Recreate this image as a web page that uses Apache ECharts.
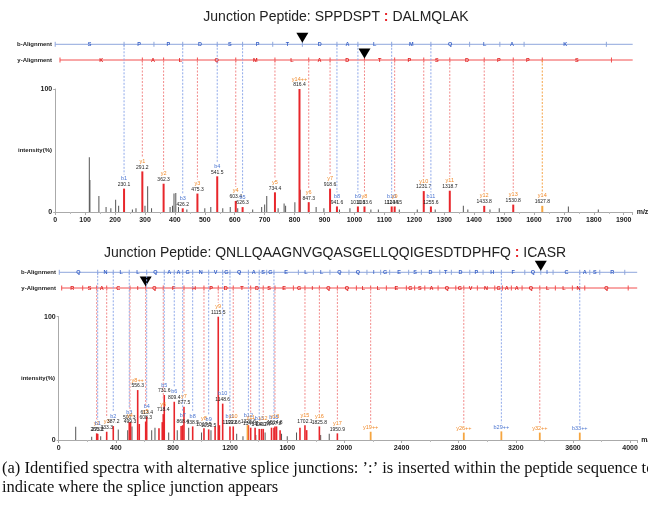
<!DOCTYPE html>
<html>
<head>
<meta charset="utf-8">
<script src="https://cdn.jsdelivr.net/npm/echarts@6/dist/echarts.min.js"></script>
<style>
html, body { margin: 0; padding: 0; background: #fff; }
#main { width: 648px; height: 508px; }
</style>
</head>
<body>
<div id="main"></div>
<script>
// ---- top spectrum : SPPDSPT : DALMQLAK ----
var topBSeq = 'SPPDSPTDALMQLAK'.split('');
var topYSeq = 'KALQMLADTPSDPPS'.split('');
var topBTicks = [0, 230.1, 330, 426.2, 541.5, 626.3, 727, 826, 941.6, 1011.6, 1124.5, 1255.6, 1385, 1486, 1567, 1842];
var topYTicks = [16, 291.2, 362.3, 475.3, 603.4, 734.4, 847.3, 918.6, 1033.6, 1134.5, 1231.7, 1318.7, 1433.8, 1530.8, 1627.8, 1859];
var topBJunction = 7;
var topYJunction = 8;

var topGreyMz = [114, 116, 146, 170, 186, 202, 212, 258, 270, 300, 309, 322, 384, 392, 397, 403, 412, 440, 500, 520,
  560, 585, 610, 660, 690, 700, 707, 745, 765, 770, 801, 819, 872, 898, 950, 985, 1055, 1080, 1150, 1210,
  1270, 1364, 1379, 1453, 1484, 1715, 1815];
var topGreyInt = [44.5, 26, 13, 4, 3, 10, 5, 2, 3, 5, 21, 3, 4, 5, 15, 15.5, 4, 2, 3, 4,
  3, 4, 3, 2, 4, 6, 13, 3, 7, 5, 8, 18, 4, 3, 2, 3, 2, 2, 2, 2,
  2, 5, 2, 2, 3, 4.5, 2];

var topRedMz = [230.1, 291.2, 362.3, 426.2, 475.3, 541.5, 603.4, 626.3, 734.4, 816.4, 847.3, 918.6, 941.6, 1011.6, 1033.6, 1124.5, 1134.5, 1231.7, 1255.6, 1318.7, 1433.8, 1530.8];
var topRedInt = [19, 33, 23, 3, 15, 29, 9, 4, 16, 100, 8, 19, 4.5, 4.5, 4.5, 4.5, 4.5, 17, 4.5, 17.3, 5, 6];
var topRedIon = ['b1', 'y1', 'y2', 'b3', 'y3', 'b4', 'y4', 'b5', 'y5', 'y14++', 'y6', 'y7', 'b8', 'b9', 'y8', 'b10', 'y9', 'y10', 'b11', 'y11', 'y12', 'y13'];
var topRedVal = ['230.1', '291.2', '362.3', '426.2', '475.3', '541.5', '603.4', '626.3', '734.4', '816.4', '847.3', '918.6', '941.6', '1011.6', '1033.6', '1124.5', '1134.5', '1231.7', '1255.6', '1318.7', '1433.8', '1530.8'];

var topOrangeMz = [1627.8];
var topOrangeInt = [5];
var topOrangeIon = ['y14'];
var topOrangeVal = ['1627.8'];

// ---- bottom spectrum : QNLLQAAGNVGQASGELLQQIGESDTDPHFQ : ICASR ----
var botBSeq = 'QNLLQAAGNVGQASGELLQQIGESDTDPHFQICASR'.split('');
var botYSeq = 'RSACIQFHPDTDSEGIQQLLEGSAQGVNGAAQLLNQ'.split('');
var botBTicks = [4, 273, 382, 494, 616, 739, 809, 868, 938, 1050, 1148, 1199, 1328, 1404, 1456, 1507, 1678, 1783, 1899, 2032,
  2158, 2254, 2317, 2450, 2539, 2668, 2749, 2878, 2971, 3099, 3263, 3375, 3461, 3648, 3718, 3788, 3963];
var botYTicks = [21, 168, 266, 336, 499, 609, 732, 877, 1017, 1117, 1222, 1344, 1432, 1514, 1643, 1724, 1825, 1951, 2084, 2184,
  2294, 2434, 2492, 2563, 2656, 2780, 2836, 2931, 3053, 3106, 3169, 3244, 3368, 3477, 3596, 3683, 3987];
var botBJunction = 31;
var botYJunction = 5;

var botGreyMz = [119, 231, 294, 417, 483, 513, 651, 674, 770, 830, 910, 1000, 1066, 1246, 1290, 1380, 1445, 1560, 1600, 1665, 1834, 1894];
var botGreyInt = [10.8, 2.7, 3, 8.6, 8, 11, 8, 10, 6, 8, 10, 6, 8, 5, 3, 4, 6, 5, 3, 6, 4, 5];

var botRedMz = [266, 273, 336, 382, 494, 499, 503, 553, 564, 609, 616, 702, 725, 732, 739, 809, 857, 868, 877, 938,
  1017, 1050, 1095, 1117, 1125, 1148, 1199, 1222, 1328, 1344, 1375, 1404, 1420, 1432, 1490, 1507, 1514, 1525, 1550, 1689,
  1724, 1736, 1825, 1951];
var botRedInt = [5.4, 5, 6.7, 11.3, 14.5, 12, 14.5, 40.5, 13, 15, 19, 9.5, 14.5, 21, 36.5, 31, 11.4, 12, 27, 11,
  9.5, 8.6, 11, 100, 12, 29.5, 11, 11, 12, 10, 10, 9, 9, 9, 10, 10, 11, 11, 8, 10,
  12, 8, 11, 5.4];
var botRedIon = ['y2', 'b1', 'y3', 'b2', 'b3', 'y4', '', 'y8++', '', 'y5', 'b4', '', '', 'y6', 'b5', 'b6', '', 'b7', 'y7', 'b8',
  'y8', 'b9', '', 'y9', '', 'b10', 'b11', 'y10', 'b12', 'y11', '', 'b13', '', 'y12', '', 'b15', 'y13', '', '', '',
  'y15', '', 'y16', 'y17'];
var botRedVal = ['266.2', '273.2', '333.3', '387.2', '500.3', '499.3', '', '556.3', '', '608.3', '613.4', '', '', '718.4', '731.6', '809.4', '', '868.4', '877.5', '938.5',
  '1017.5', '1050.5', '', '1115.5', '', '1148.6', '1199.6', '1222.6', '1328.6', '1344.7', '', '1404.7', '', '1432.7', '', '1507.8', '1514.8', '', '', '',
  '1702.1', '', '1825.8', '1950.9'];

var botOrangeMz = [1322, 2184, 2836, 3099, 3368, 3648];
var botOrangeInt = [12, 6.7, 6, 7, 6, 6];
var botOrangeIon = ['', 'y19++', 'y26++', 'b29++', 'y32++', 'b33++'];
var botOrangeVal = ['', '', '', '', '', ''];

var topMax = 1930, botMax = 4050;
var SANS = '"Liberation Sans", Arial, sans-serif';
var RED = '#e8262b', GREY = '#555', ORANGE = '#f5a540';
var BLUE_TXT = '#4a74d0', ORANGE_TXT = '#f0892a';

// 峰（竖条）
function peakSeries(gi, mzs, ints, color, w) {
  return {
    type: 'custom', xAxisIndex: gi, yAxisIndex: gi, silent: true, z: 2,
    data: mzs.map(function (m, i) { return [m, ints[i]]; }),
    renderItem: function (params, api) {
      var p0 = api.coord([api.value(0), 0]);
      var p1 = api.coord([api.value(0), api.value(1)]);
      return { type: 'rect', shape: { x: p0[0] - w / 2, y: p1[1], width: w, height: p0[1] - p1[1] }, style: { fill: color } };
    }
  };
}

// 比对条
function rowSeries(gi, ticks, seq, junction, rowY, lineColor, textColor, axisMax) {
  return {
    type: 'custom', xAxisIndex: gi, yAxisIndex: gi, silent: true, z: 3,
    data: ticks.map(function (t) { return [t, 0]; }),
    renderItem: function (params, api) {
      var i = params.dataIndex;
      var x = api.coord([ticks[i], 0])[0];
      var kids = [{ type: 'line', shape: { x1: x, y1: rowY - 2.5, x2: x, y2: rowY + 2.5 }, style: { stroke: lineColor, lineWidth: 1 } }];
      if (i === 0) {
        var xe = api.coord([axisMax, 0])[0];
        kids.push({ type: 'line', shape: { x1: x, y1: rowY, x2: xe, y2: rowY }, style: { stroke: lineColor, lineWidth: 1 } });
      }
      if (i < seq.length) {
        var xn = api.coord([ticks[i + 1], 0])[0];
        kids.push({ type: 'text', style: { text: seq[i], x: (x + xn) / 2, y: rowY, align: 'center', verticalAlign: 'middle', fill: textColor, font: 'bold 5.5px ' + SANS } });
      }
      if (i === junction) {
        kids.push({ type: 'polygon', shape: { points: [[x - 6, rowY - 11.5], [x + 6, rowY - 11.5], [x, rowY - 1.5]] }, style: { fill: '#000' } });
      }
      return { type: 'group', children: kids };
    }
  };
}

// 离子标注 + 虚线
function ionSeries(gi, mzs, ints, ions, vals, bTicks, yTicks, rowB, rowY, yLineColor) {
  return {
    type: 'custom', xAxisIndex: gi, yAxisIndex: gi, silent: true, z: 4,
    data: mzs.map(function (m, i) { return [m, ints[i]]; }),
    renderItem: function (params, api) {
      var i = params.dataIndex, ion = ions[i];
      if (!ion) return null;
      var p = api.coord([mzs[i], ints[i]]);
      var isB = ion.charAt(0) === 'b';
      var kids = [];
      var nameY = p[1] - (vals[i] ? 10 : 4);
      if (vals[i]) {
        kids.push({ type: 'text', style: { text: vals[i], x: p[0], y: p[1] - 4, align: 'center', verticalAlign: 'middle', fill: '#222', font: '5px ' + SANS } });
      }
      kids.push({ type: 'text', style: { text: ion, x: p[0], y: nameY, align: 'center', verticalAlign: 'middle', fill: isB ? BLUE_TXT : ORANGE_TXT, font: '5.5px ' + SANS } });
      var ticks = isB ? bTicks : yTicks;
      var hit = ticks.some(function (t) { return Math.abs(t - mzs[i]) < 2; });
      if (hit) {
        kids.push({ type: 'line', shape: { x1: p[0], y1: isB ? rowB : rowY, x2: p[0], y2: nameY - 4 },
          style: { stroke: isB ? '#8fa9ea' : yLineColor, lineWidth: 1, lineDash: [2, 1.5] } });
      }
      return { type: 'group', children: kids };
    }
  };
}

function xAxisOpt(gi, max, step) {
  return {
    gridIndex: gi, type: 'value', min: 0, max: max, interval: step,
    axisLine: { lineStyle: { color: '#aaa' } },
    axisTick: { length: 3, lineStyle: { color: '#aaa' } },
    minorTick: { show: true, splitNumber: 2, length: 2, lineStyle: { color: '#bbb' } },
    splitLine: { show: false },
    axisLabel: { fontSize: 7, fontWeight: 'bold', color: '#222', margin: 5, fontFamily: SANS,
      formatter: function (v) { return v % step === 0 ? String(v) : ''; } },
    name: 'm/z', nameLocation: 'end', nameGap: 4,
    nameTextStyle: { fontSize: 7, fontWeight: 'bold', color: '#222', fontFamily: SANS }
  };
}
function yAxisOpt(gi) {
  return {
    gridIndex: gi, type: 'value', min: 0, max: 100, interval: 100,
    axisLine: { show: true, lineStyle: { color: '#aaa' } },
    axisTick: { show: true, length: 2, lineStyle: { color: '#aaa' } },
    splitLine: { show: false },
    axisLabel: { fontSize: 7, fontWeight: 'bold', color: '#222', margin: 3, fontFamily: SANS }
  };
}
function txt(x, y, s, font, color, align) {
  return { type: 'text', x: x, y: y, silent: true,
    style: { text: s, font: font, fill: color || '#222', align: align || 'left', verticalAlign: 'middle' } };
}
function titleTxt(x, y, left, right) {
  return { type: 'text', x: x, y: y, silent: true,
    style: { text: '{a|Junction Peptide: ' + left + ' }{r|:}{a| ' + right + '}', align: 'center', verticalAlign: 'middle',
      rich: { a: { fontSize: 14, fontFamily: SANS, fill: '#222' }, r: { fontSize: 14, fontFamily: SANS, fontWeight: 'bold', fill: RED } } } };
}

var chart = echarts.init(document.getElementById('main'));
var option = {
  animation: false,
  grid: [
    { left: 55.2, top: 89, width: 577.5, height: 123, outerBoundsMode: 'none' },
    { left: 58.7, top: 316.7, width: 578.5, height: 123.3, outerBoundsMode: 'none' }
  ],
  xAxis: [xAxisOpt(0, topMax, 100), xAxisOpt(1, botMax, 400)],
  yAxis: [yAxisOpt(0), yAxisOpt(1)],
  series: [
    peakSeries(0, topGreyMz, topGreyInt, GREY, 1),
    peakSeries(0, topRedMz, topRedInt, RED, 2),
    peakSeries(0, topOrangeMz, topOrangeInt, ORANGE, 2),
    rowSeries(0, topBTicks, topBSeq, topBJunction, 44.3, '#8ea6dc', '#3c64c8', topMax),
    rowSeries(0, topYTicks, topYSeq, topYJunction, 60, '#f24e4e', '#e02020', topMax),
    ionSeries(0, topRedMz, topRedInt, topRedIon, topRedVal, topBTicks, topYTicks, 44.3, 60, '#f28b8b'),
    ionSeries(0, topOrangeMz, topOrangeInt, topOrangeIon, topOrangeVal, topBTicks, topYTicks, 44.3, 60, '#f5a54a'),

    peakSeries(1, botGreyMz, botGreyInt, GREY, 1),
    peakSeries(1, botRedMz, botRedInt, RED, 1.6),
    peakSeries(1, botOrangeMz, botOrangeInt, ORANGE, 1.8),
    rowSeries(1, botBTicks, botBSeq, botBJunction, 272.3, '#8ea6dc', '#3c64c8', botMax),
    rowSeries(1, botYTicks, botYSeq, botYJunction, 288, '#f24e4e', '#e02020', botMax),
    ionSeries(1, botRedMz, botRedInt, botRedIon, botRedVal, botBTicks, botYTicks, 272.3, 288, '#f28b8b'),
    ionSeries(1, botOrangeMz, botOrangeInt, botOrangeIon, botOrangeVal, botBTicks, botYTicks, 272.3, 288, '#f28b8b')
  ],
  graphic: [
    titleTxt(336, 17, 'SPPDSPT', 'DALMQLAK'),
    titleTxt(335, 253, 'QNLLQAAGNVGQASGELLQQIGESDTDPHFQ', 'ICASR'),
    txt(52, 44.3, 'b-Alignment', 'bold 6px ' + SANS, '#222', 'right'),
    txt(52, 60, 'y-Alignment', 'bold 6px ' + SANS, '#222', 'right'),
    txt(56, 272.3, 'b-Alignment', 'bold 6px ' + SANS, '#222', 'right'),
    txt(56, 288, 'y-Alignment', 'bold 6px ' + SANS, '#222', 'right'),
    txt(52, 150, 'intensity(%)', 'bold 6px ' + SANS, '#222', 'right'),
    txt(55, 378, 'intensity(%)', 'bold 6px ' + SANS, '#222', 'right'),
    txt(2, 469, '(a) Identified spectra with alternative splice junctions: \u2019:\u2019 is inserted within the peptide sequence to', '16.5px "Liberation Serif", serif', '#111'),
    txt(2, 488, 'indicate where the splice junction appears', '16.5px "Liberation Serif", serif', '#111')
  ]
};
chart.setOption(option);
</script>
</body>
</html>
